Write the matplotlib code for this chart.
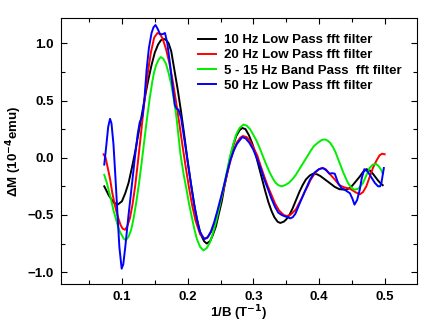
import matplotlib
matplotlib.use("Agg")
import matplotlib.pyplot as plt
from matplotlib.ticker import MultipleLocator

plt.rcParams['font.family'] = ['Liberation Sans', 'DejaVu Sans']
plt.rcParams['font.weight'] = 'bold'

# 10 Hz low pass
x_10 = [0.073, 0.080, 0.087, 0.0935, 0.100, 0.105, 0.110, 0.115, 0.120, 0.125, 0.130, 0.135,
        0.140, 0.145, 0.150, 0.155, 0.159, 0.163, 0.167, 0.171, 0.175, 0.180, 0.185, 0.190,
        0.195, 0.200, 0.205, 0.210, 0.215, 0.220, 0.225, 0.229, 0.234, 0.238, 0.243, 0.247,
        0.252, 0.256, 0.261, 0.265, 0.270, 0.274, 0.279, 0.283, 0.288, 0.293, 0.298, 0.303,
        0.308, 0.313, 0.318, 0.323, 0.328, 0.332, 0.337, 0.341, 0.346, 0.350, 0.355, 0.360,
        0.365, 0.370, 0.375, 0.380, 0.386, 0.391, 0.397, 0.402, 0.409, 0.416, 0.424, 0.431,
        0.441, 0.447, 0.452, 0.457, 0.462, 0.467, 0.472, 0.477, 0.482, 0.486, 0.490, 0.494,
        0.497]
y_10 = [-0.25, -0.33, -0.39, -0.41, -0.38, -0.31, -0.22, -0.09, 0.05, 0.21, 0.37, 0.53,
        0.68, 0.81, 0.92, 0.99, 1.025, 1.04, 1.03, 1.0, 0.93, 0.76, 0.59, 0.40,
        0.19, -0.03, -0.23, -0.41, -0.56, -0.67, -0.73, -0.75, -0.73, -0.68, -0.60, -0.50,
        -0.38, -0.25, -0.11, 0.01, 0.12, 0.19, 0.24, 0.26, 0.25, 0.20, 0.13, 0.04,
        -0.07, -0.18, -0.29, -0.39, -0.47, -0.52, -0.56, -0.57, -0.56, -0.54, -0.50, -0.44,
        -0.37, -0.30, -0.24, -0.19, -0.155, -0.14, -0.145, -0.16, -0.19, -0.22, -0.255, -0.275,
        -0.28, -0.265, -0.235, -0.20, -0.165, -0.125, -0.10, -0.11, -0.14, -0.17, -0.20, -0.225,
        -0.24]

# 20 Hz low pass
x_20 = [0.072, 0.075, 0.078, 0.082, 0.085, 0.089, 0.092, 0.095, 0.098, 0.101, 0.1045, 0.108,
        0.112, 0.116, 0.120, 0.124, 0.128, 0.132, 0.136, 0.140, 0.144, 0.149, 0.154, 0.158,
        0.162, 0.167, 0.172, 0.177, 0.182, 0.187, 0.192, 0.197, 0.202, 0.207, 0.212, 0.219,
        0.226, 0.231, 0.236, 0.241, 0.246, 0.251, 0.256, 0.261, 0.266, 0.271, 0.275, 0.280,
        0.284, 0.290, 0.295, 0.300, 0.306, 0.311, 0.317, 0.322, 0.328, 0.333, 0.339, 0.346,
        0.351, 0.356, 0.360, 0.365, 0.369, 0.374, 0.378, 0.383, 0.387, 0.392, 0.396, 0.400,
        0.405, 0.410, 0.416, 0.424, 0.431, 0.439, 0.447, 0.455, 0.462, 0.467, 0.472, 0.477,
        0.482, 0.487, 0.492, 0.496, 0.500]
y_20 = [0.03, 0.0, -0.08, -0.19, -0.30, -0.41, -0.48, -0.54, -0.59, -0.62, -0.63, -0.60,
        -0.53, -0.41, -0.25, -0.05, 0.16, 0.38, 0.59, 0.77, 0.92, 1.05, 1.09, 1.08,
        1.04, 0.95, 0.83, 0.68, 0.50, 0.31, 0.11, -0.08, -0.26, -0.42, -0.55, -0.67,
        -0.71, -0.69, -0.645, -0.57, -0.47, -0.36, -0.24, -0.12, -0.01, 0.08, 0.135, 0.175,
        0.19, 0.18, 0.145, 0.09, 0.02, -0.07, -0.17, -0.25, -0.33, -0.40, -0.46, -0.50,
        -0.51, -0.50, -0.48, -0.45, -0.405, -0.35, -0.30, -0.245, -0.195, -0.15, -0.12, -0.10,
        -0.09, -0.10, -0.14, -0.19, -0.24, -0.26, -0.27, -0.30, -0.32, -0.30, -0.25, -0.17,
        -0.09, -0.03, 0.02, 0.035, 0.03]

# 5 - 15 Hz band pass
x_bp = [0.073, 0.077, 0.080, 0.084, 0.087, 0.091, 0.094, 0.097, 0.100, 0.103, 0.106, 0.110,
        0.114, 0.118, 0.122, 0.126, 0.130, 0.134, 0.138, 0.142, 0.146, 0.149, 0.152, 0.156,
        0.159, 0.163, 0.167, 0.171, 0.175, 0.179, 0.183, 0.186, 0.189, 0.194, 0.198, 0.202,
        0.206, 0.210, 0.214, 0.219, 0.224, 0.229, 0.234, 0.239, 0.244, 0.249, 0.254, 0.259,
        0.264, 0.269, 0.274, 0.279, 0.285, 0.290, 0.295, 0.300, 0.305, 0.310, 0.315, 0.320,
        0.325, 0.330, 0.334, 0.338, 0.343, 0.348, 0.354, 0.360, 0.365, 0.370, 0.376, 0.382,
        0.387, 0.392, 0.398, 0.404, 0.409, 0.413, 0.417, 0.421, 0.425, 0.431, 0.437, 0.444,
        0.449, 0.454, 0.460, 0.467, 0.472, 0.477, 0.482, 0.487, 0.491, 0.495, 0.497]
y_bp = [-0.15, -0.22, -0.29, -0.38, -0.46, -0.54, -0.60, -0.65, -0.68, -0.71, -0.72, -0.69,
        -0.63, -0.52, -0.38, -0.22, -0.04, 0.15, 0.34, 0.51, 0.66, 0.75, 0.81, 0.86,
        0.88, 0.865, 0.82, 0.74, 0.64, 0.51, 0.35, 0.19, 0.03, -0.15, -0.27, -0.40,
        -0.51, -0.62, -0.71, -0.78, -0.81, -0.79, -0.74, -0.65, -0.54, -0.41, -0.28, -0.14,
        0.0, 0.11, 0.205, 0.26, 0.29, 0.28, 0.25, 0.20, 0.147, 0.08, 0.006, -0.065,
        -0.13, -0.185, -0.22, -0.24, -0.25, -0.24, -0.22, -0.185, -0.147, -0.10, -0.045, 0.01,
        0.058, 0.10, 0.13, 0.155, 0.16, 0.15, 0.13, 0.095, 0.05, -0.04, -0.13, -0.22,
        -0.26, -0.28, -0.27, -0.22, -0.155, -0.09, -0.06, -0.055, -0.075, -0.11, -0.14]

# 50 Hz low pass
x_50 = [0.073, 0.076, 0.079, 0.0818, 0.084, 0.087, 0.090, 0.093, 0.096, 0.0995, 0.102, 0.105,
        0.1096, 0.115, 0.1198, 0.124, 0.127, 0.131, 0.134, 0.1375, 0.141, 0.145, 0.148, 0.151,
        0.154, 0.158, 0.162, 0.1655, 0.169, 0.173, 0.177, 0.1805, 0.183, 0.186, 0.190, 0.196,
        0.203, 0.211, 0.218, 0.225, 0.230, 0.235, 0.240, 0.245, 0.250, 0.255, 0.260, 0.265,
        0.270, 0.275, 0.283, 0.288, 0.294, 0.300, 0.305, 0.311, 0.316, 0.322, 0.327, 0.333,
        0.338, 0.343, 0.347, 0.352, 0.356, 0.360, 0.364, 0.3705, 0.378, 0.386, 0.393, 0.400,
        0.406, 0.411, 0.416, 0.420, 0.424, 0.429, 0.434, 0.439, 0.447, 0.451, 0.454, 0.458,
        0.462, 0.465, 0.469, 0.474, 0.4795, 0.485, 0.490, 0.493, 0.495, 0.497, 0.4987]
y_50 = [-0.06, 0.10, 0.27, 0.34, 0.30, 0.12, -0.17, -0.48, -0.78, -0.97, -0.93, -0.78,
        -0.52, -0.24, 0.01, 0.21, 0.31, 0.36, 0.50, 0.77, 0.96, 1.09, 1.14, 1.16,
        1.13, 1.08, 1.08, 1.09, 1.00, 0.825, 0.62, 0.46, 0.43, 0.42, 0.35, 0.12,
        -0.15, -0.45, -0.64, -0.71, -0.70, -0.65, -0.57, -0.47, -0.36, -0.25, -0.13, -0.02,
        0.06, 0.12, 0.18, 0.17, 0.13, 0.07, 0.0, -0.09, -0.18, -0.27, -0.35, -0.43,
        -0.48, -0.50, -0.51, -0.52, -0.53, -0.52, -0.49, -0.40, -0.30, -0.195, -0.13, -0.10,
        -0.09, -0.11, -0.14, -0.135, -0.14, -0.22, -0.265, -0.28, -0.31, -0.36, -0.41, -0.37,
        -0.28, -0.18, -0.10, -0.12, -0.17, -0.22, -0.25, -0.25, -0.22, -0.15, -0.09]

labels = ['10 Hz Low Pass fft filter', '20 Hz Low Pass fft filter',
          '5 - 15 Hz Band Pass  fft filter', '50 Hz Low Pass fft filter']

fig = plt.figure(figsize=(4.32, 3.24), dpi=100)
ax = fig.add_axes([0.141, 0.123, 0.824, 0.821])

lw = 1.4
ax.plot(x_10, y_10, color='black', lw=lw, label=labels[0])
ax.plot(x_20, y_20, color='red', lw=lw, label=labels[1])
ax.plot(x_bp, y_bp, color='#00ee00', lw=lw, label=labels[2])
ax.plot(x_50, y_50, color='blue', lw=lw, label=labels[3])

ax.set_xlim(0.007, 0.549)
ax.set_ylim(-1.105, 1.22)
ax.xaxis.set_major_locator(MultipleLocator(0.1))
ax.xaxis.set_minor_locator(MultipleLocator(0.05))
ax.yaxis.set_major_locator(MultipleLocator(0.5))
ax.yaxis.set_minor_locator(MultipleLocator(0.25))
ax.tick_params(which='both', direction='in', top=True, right=True, width=0.8)
ax.tick_params(which='major', length=4, labelsize=9.5, pad=5)
ax.tick_params(which='minor', length=3)
for lab in ax.get_xticklabels() + ax.get_yticklabels():
    lab.set_fontweight('bold')

ax.set_xlabel('1/B (T$^{\\mathbf{-1}}$)', fontsize=9.5, fontweight='bold', labelpad=0)
ax.set_ylabel('\u0394M (10$^{\\mathbf{-4}}$emu)', fontsize=9.5, fontweight='bold', labelpad=3)

ax.legend(loc='upper left', bbox_to_anchor=(0.37, 0.96), frameon=False,
          handlelength=1.4, handletextpad=0.55, labelspacing=0.22, borderaxespad=0,
          prop={'weight': 'bold', 'size': 9.5})

fig.savefig('out.png', dpi=100)
